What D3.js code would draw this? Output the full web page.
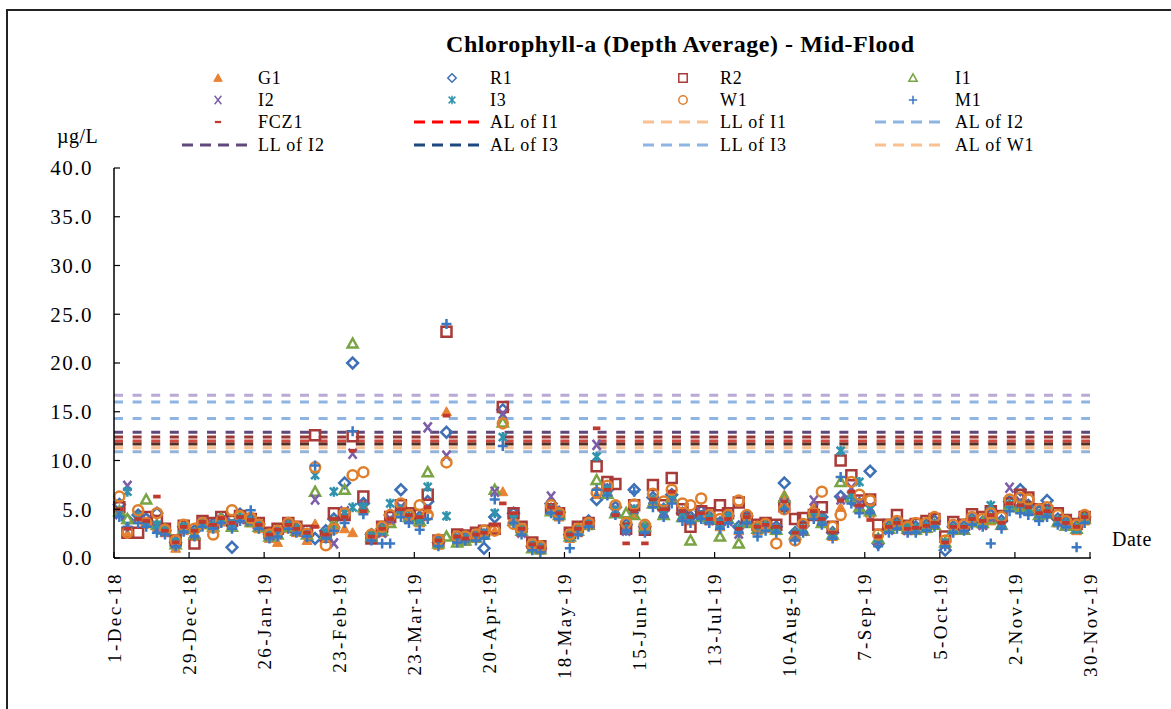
<!DOCTYPE html>
<html><head><meta charset="utf-8">
<script src="https://cdn.jsdelivr.net/npm/d3@7"></script>
<style>
body{margin:0;background:#fff}
svg{display:block}
text{font-family:"Liberation Serif","Times New Roman",serif;fill:#000}
</style>
</head><body>
<svg id="chart" width="1171" height="709"></svg>
<script>
const dates = ["3-Dec-18","6-Dec-18","10-Dec-18","13-Dec-18","17-Dec-18","20-Dec-18","24-Dec-18","27-Dec-18","31-Dec-18","3-Jan-19","7-Jan-19","10-Jan-19","14-Jan-19","17-Jan-19","21-Jan-19","24-Jan-19","28-Jan-19","31-Jan-19","4-Feb-19","7-Feb-19","11-Feb-19","14-Feb-19","18-Feb-19","21-Feb-19","25-Feb-19","28-Feb-19","4-Mar-19","7-Mar-19","11-Mar-19","14-Mar-19","18-Mar-19","21-Mar-19","25-Mar-19","28-Mar-19","1-Apr-19","4-Apr-19","8-Apr-19","11-Apr-19","15-Apr-19","18-Apr-19","22-Apr-19","25-Apr-19","29-Apr-19","2-May-19","6-May-19","9-May-19","13-May-19","16-May-19","20-May-19","23-May-19","27-May-19","30-May-19","3-Jun-19","6-Jun-19","10-Jun-19","13-Jun-19","17-Jun-19","20-Jun-19","24-Jun-19","27-Jun-19","1-Jul-19","4-Jul-19","8-Jul-19","11-Jul-19","15-Jul-19","18-Jul-19","22-Jul-19","25-Jul-19","29-Jul-19","1-Aug-19","5-Aug-19","8-Aug-19","12-Aug-19","15-Aug-19","19-Aug-19","22-Aug-19","26-Aug-19","29-Aug-19","2-Sep-19","5-Sep-19","9-Sep-19","12-Sep-19","16-Sep-19","19-Sep-19","23-Sep-19","26-Sep-19","30-Sep-19","3-Oct-19","7-Oct-19","10-Oct-19","14-Oct-19","17-Oct-19","21-Oct-19","24-Oct-19","28-Oct-19","31-Oct-19","4-Nov-19","7-Nov-19","11-Nov-19","14-Nov-19","18-Nov-19","21-Nov-19","25-Nov-19","28-Nov-19"];

const G1 = [4.6,2.5,4.2,3.5,3.2,2.6,1.0,2.8,2.2,3.4, 3.0,3.9,3.4,4.0,3.6,3.0,2.0,1.6,3.0,2.6, 1.8,3.5,2.0,3.3,3.0,2.6,5.0,2.0,2.6,3.8, 4.8,4.0,3.6,5.0,1.3,15.0,1.8,1.7,2.0,2.3, 2.8,6.8,4.3,2.6,1.0,0.8,5.2,4.2,2.0,2.6, 3.3,6.5,6.8,4.8,3.2,4.5,3.0,5.8,4.6,6.0, 4.2,3.8,4.4,3.8,3.2,4.0,2.8,3.8,2.8,3.0, 2.8,6.5,2.2,3.0,5.3,3.8,2.2,5.2,6.6,5.0, 4.6,1.8,3.0,3.4,2.8,2.8,3.0,3.4,1.4,2.8, 3.0,3.6,3.4,3.8,3.3,5.2,5.0,4.8,4.2,4.5, 3.6,3.4,2.8,3.8];
const R1 = [5.5,3.9,4.4,4.0,4.6,2.8,1.6,3.2,2.8,3.6, 3.5,4.0,1.1,4.5,3.9,3.5,2.4,2.6,3.5,3.0, 2.3,2.0,2.8,4.0,7.7,20.0,5.6,2.4,3.0,4.4, 7.0,4.5,4.2,5.8,1.6,12.9,2.2,2.0,2.3,1.0, 4.2,15.2,4.6,3.0,1.2,1.0,5.6,4.7,2.4,3.0, 3.8,6.0,7.0,5.2,3.4,7.0,3.2,6.2,5.0,6.5, 4.6,4.2,4.8,4.2,3.6,4.3,3.2,4.3,3.2,3.4, 3.2,7.7,2.6,3.3,4.6,4.2,2.6,6.3,6.0,5.6, 8.9,1.5,3.2,3.6,3.1,3.2,3.4,3.8,0.8,3.2, 3.2,4.0,3.7,4.4,3.8,5.8,7.0,5.4,4.8,5.9, 4.0,3.7,3.2,4.2];
const R2 = [5.2,2.6,2.6,4.2,3.8,3.0,1.8,3.3,1.5,3.8, 3.6,4.2,3.8,4.3,4.0,3.6,2.6,3.0,3.6,3.2, 2.8,12.6,2.2,4.6,4.4,12.5,6.3,2.0,3.2,4.2, 5.4,4.6,4.4,6.5,1.8,23.2,2.4,2.3,2.6,2.8, 3.0,15.5,4.6,3.2,1.6,1.2,5.0,4.6,2.6,3.2, 3.6,9.4,7.8,7.6,3.0,5.4,2.9,7.5,5.4,8.2, 5.0,3.2,4.8,4.6,5.4,4.6,5.7,4.0,3.4,3.6, 3.4,5.3,4.0,4.1,4.4,5.2,3.2,10.0,8.5,5.9, 6.0,3.4,3.4,4.4,3.3,3.5,3.8,4.0,2.2,3.7, 3.4,4.5,4.2,4.8,4.3,5.6,6.5,6.2,5.0,4.8, 4.6,3.9,3.5,4.2];
const I1 = [4.8,4.0,4.0,6.0,3.4,2.9,1.4,3.0,2.4,3.5, 3.2,4.0,3.2,4.2,3.7,3.2,2.2,2.4,3.2,2.8, 2.4,6.8,2.4,3.6,7.0,22.0,5.2,2.2,2.8,3.6, 4.6,4.2,3.8,8.8,1.5,2.2,1.6,1.8,2.1,2.4, 7.0,13.9,3.8,2.8,1.0,0.9,4.8,4.4,2.2,2.8, 3.4,8.0,6.6,4.6,4.6,4.4,3.2,5.6,4.4,6.2, 4.2,1.8,4.2,4.0,2.2,4.0,1.5,3.6,3.0,3.2, 2.9,6.2,2.4,2.8,4.6,3.6,2.4,7.8,6.2,5.2, 4.8,2.0,3.0,3.3,3.0,2.9,3.1,3.4,1.6,2.9, 2.9,3.7,3.6,4.0,3.4,5.4,5.2,5.0,4.4,4.6, 3.7,3.3,3.0,4.0];
const I2 = [4.5,7.4,4.2,3.8,3.0,2.7,1.5,3.0,2.5,3.6, 3.4,3.8,3.6,4.0,3.8,3.3,2.3,2.5,3.4,2.8, 2.6,6.0,2.6,1.5,4.8,10.7,5.4,2.3,2.6,4.0, 5.2,4.0,4.0,13.4,1.8,10.5,2.0,2.2,2.3,2.6, 6.8,14.8,4.0,2.6,1.2,1.0,6.3,4.5,2.2,2.7, 3.5,11.6,7.2,5.0,2.8,5.0,3.0,6.0,4.8,6.4, 4.4,4.0,4.6,3.9,3.6,3.8,2.5,4.0,3.0,3.2, 3.0,5.6,2.4,2.8,5.9,4.0,2.4,6.0,7.2,5.6, 5.2,1.8,2.9,3.4,2.9,3.0,3.2,3.5,1.5,3.0, 3.0,3.8,3.4,4.2,3.6,7.2,5.8,5.0,4.6,4.8, 3.8,3.5,3.0,4.0];
const I3 = [4.6,6.8,4.3,3.6,3.4,2.8,1.6,3.1,2.6,3.5, 3.3,3.9,3.5,4.1,3.8,3.3,2.4,2.6,3.3,2.9, 2.5,8.5,2.6,6.8,4.6,5.2,5.2,2.2,2.8,5.6, 5.0,4.2,4.0,7.3,1.7,4.3,2.0,2.0,2.2,2.5, 4.6,12.4,4.0,2.8,1.3,1.0,5.0,4.4,2.2,2.8, 3.5,10.4,7.0,4.9,3.0,5.0,3.0,6.0,5.0,6.5, 4.4,4.0,4.4,4.0,3.5,4.2,3.0,4.0,3.0,3.2, 3.0,5.5,2.5,3.0,4.4,4.0,2.5,11.0,6.4,7.8, 5.0,2.0,3.0,3.5,3.0,3.0,3.2,3.5,1.5,3.0, 3.0,3.8,3.5,5.4,3.6,5.5,5.5,5.0,4.5,4.8, 3.8,3.5,3.0,4.0];
const W1 = [6.3,2.6,4.9,3.6,4.6,2.9,1.8,3.4,3.0,3.6, 2.4,3.8,4.9,4.3,4.1,3.4,2.4,2.8,3.6,3.2, 2.5,9.3,1.3,3.0,4.6,8.5,8.8,2.4,3.2,4.4, 5.6,4.4,5.4,4.4,1.9,9.8,2.2,2.2,2.4,2.8, 2.8,13.8,3.5,3.0,1.4,1.2,5.4,4.6,2.4,3.0, 3.6,6.7,7.4,5.4,3.6,5.5,3.4,6.6,5.8,7.0, 5.6,5.4,6.1,4.4,4.0,4.4,5.9,4.4,3.2,3.5, 1.5,5.0,1.8,3.5,4.6,6.8,3.2,4.4,7.8,6.5, 5.9,2.4,3.4,3.8,3.2,3.6,3.6,4.2,1.8,3.4, 3.4,4.2,4.0,4.6,4.2,6.0,6.2,6.0,5.0,5.2, 4.4,3.8,3.4,4.4];
const M1 = [4.2,3.2,3.6,3.2,2.6,2.4,1.2,2.7,2.2,3.2, 3.0,3.6,3.0,3.8,4.9,3.0,2.0,2.2,3.0,2.6, 2.2,9.5,2.0,2.8,3.6,13.0,4.5,1.8,1.5,1.5, 4.2,3.6,2.9,4.0,1.2,24.0,1.6,1.8,1.8,2.0, 6.0,11.5,3.6,2.4,0.8,0.6,4.6,4.0,1.0,2.4, 3.2,7.0,6.4,4.4,2.8,6.8,2.6,5.2,4.2,5.6, 3.8,3.6,4.0,3.6,3.0,3.6,2.6,3.6,2.2,2.8, 2.6,5.0,1.8,2.6,4.0,3.4,2.0,8.3,5.6,4.6, 4.6,1.2,2.6,3.0,2.6,2.6,2.8,3.2,1.2,2.6, 2.8,3.4,3.2,1.5,3.0,4.8,4.6,4.4,3.8,4.2, 3.4,3.2,1.1,3.6];
const FCZ1 = [5.0,3.0,4.0,3.8,6.3,2.8,1.6,3.2,2.8,3.7, 3.4,4.1,3.6,4.2,3.9,3.4,2.4,2.9,3.4,3.0, 2.6,3.2,2.4,4.0,4.2,11.0,4.8,2.2,3.0,4.0, 5.0,4.4,4.2,5.2,1.8,14.6,2.2,2.0,2.4,2.6, 3.4,5.6,4.6,3.0,1.4,1.1,5.2,4.6,2.4,3.0, 3.6,13.3,7.0,4.4,1.5,4.8,1.5,6.0,5.0,6.8, 4.8,4.2,4.6,4.0,3.6,4.0,3.0,4.2,3.2,3.4, 3.2,5.8,2.6,3.2,4.8,4.0,2.6,5.9,6.8,5.4, 3.9,2.2,3.2,3.6,3.0,3.1,3.3,3.6,1.6,3.2, 3.2,4.0,3.8,4.4,3.6,5.6,5.4,5.2,4.6,4.8, 4.0,3.6,3.2,4.2];

const seriesNames = ["G1","R1","R2","I1","I2","I3","W1","M1","FCZ1"];
const seriesValues = [G1,R1,R2,I1,I2,I3,W1,M1,FCZ1];
const seriesShapes = ["triFill","diamond","square","tri","x","star","circle","plus","dash"];
const seriesColors = ["#E98232","#3E70B6","#A83A37","#78A443","#7B5EA7","#2F93AE","#DF7F2C","#3A78C4","#C0392F"];

const limitValues = [16.7,16.0,14.3,12.9,12.4,12.0,11.7,11.3,10.9];
const limitColors = ["#B9A9D4","#8DB4E2","#8DB4E2","#5F497A","#953735","#D0453C","#5A2E22","#FAC090","#95B3D7"];

const legendLineNames = ["AL of I1","LL of I1","AL of I2","LL of I2","AL of I3","LL of I3","AL of W1"];
const legendLineColors = ["#FF0000","#FAC090","#8DB4E2","#604A7B","#1F497D","#8DB4E2","#FAC090"];

const xTickLabels = ["1-Dec-18","29-Dec-18","26-Jan-19","23-Feb-19","23-Mar-19","20-Apr-19","18-May-19","15-Jun-19","13-Jul-19","10-Aug-19","7-Sep-19","5-Oct-19","2-Nov-19","30-Nov-19"];
const yTicks = [0,5,10,15,20,25,30,35,40];

const parse = d3.timeParse("%d-%b-%y");
const svg = d3.select("#chart");

// frame
svg.append("rect").attr("x",7).attr("y",10).attr("width",1180).attr("height",720)
  .attr("fill","none").attr("stroke","#222").attr("stroke-width",2);

const x = d3.scaleTime().domain([parse("1-Dec-18"), parse("30-Nov-19")]).range([114,1090]);
const y = d3.scaleLinear().domain([0,40]).range([558,168]);

function symPath(type, s){
  switch(type){
    case "triFill": case "tri": return `M0,${-s}L${s},${s*0.8}L${-s},${s*0.8}Z`;
    case "diamond": return `M0,${-s}L${s},0L0,${s}L${-s},0Z`;
    case "square": return `M${-s},${-s}H${s}V${s}H${-s}Z`;
    case "x": return `M${-s*0.8},${-s}L${s*0.8},${s}M${s*0.8},${-s}L${-s*0.8},${s}`;
    case "star": return `M${-s*0.8},${-s*0.8}L${s*0.8},${s*0.8}M${s*0.8},${-s*0.8}L${-s*0.8},${s*0.8}M0,${-s}L0,${s}`;
    case "plus": return `M${-s},0L${s},0M0,${-s}L0,${s}`;
    case "dash": return `M${-s*0.75},0L${s*0.75},0`;
    case "circle": return d3.arc()({innerRadius:0,outerRadius:s,startAngle:0,endAngle:2*Math.PI});
  }
}
function drawSym(g, type, color, s, sw){
  const p = g.append("path").attr("d", symPath(type, s));
  if(type==="triFill"){ p.attr("fill",color).attr("stroke",color).attr("stroke-width",1); }
  else if(type==="dash"){ p.attr("fill","none").attr("stroke",color).attr("stroke-width",sw*1.5); }
  else { p.attr("fill","none").attr("stroke",color).attr("stroke-width",sw); }
  return p;
}

// limit lines
const plotG = svg.append("g");
limitValues.forEach((v,i)=>{
  plotG.append("line").attr("x1",114).attr("x2",1090).attr("y1",y(v)).attr("y2",y(v))
    .attr("stroke",limitColors[i]).attr("stroke-width",3).attr("stroke-dasharray","9,9.6");
});

// series markers
seriesValues.forEach((vals,si)=>{
  const g = plotG.append("g");
  vals.forEach((v,i)=>{
    const mg = g.append("g").attr("transform",`translate(${x(parse(dates[i]))},${y(v)})`);
    drawSym(mg, seriesShapes[si], seriesColors[si], si===1?5.4:5.0, 2.5);
  });
});

// axes
const axG = svg.append("g");
axG.append("line").attr("x1",114).attr("x2",114).attr("y1",168).attr("y2",558).attr("stroke","#000").attr("stroke-width",1.5);
axG.append("line").attr("x1",114).attr("x2",1091).attr("y1",558).attr("y2",558).attr("stroke","#000").attr("stroke-width",1.5);
yTicks.forEach(t=>{
  axG.append("line").attr("x1",114).attr("x2",120).attr("y1",y(t)).attr("y2",y(t)).attr("stroke","#000").attr("stroke-width",1.2);
  axG.append("text").attr("x",93).attr("y",y(t)).attr("dy","0.35em").attr("text-anchor","end")
    .attr("font-size",21).attr("letter-spacing",1.5).text(t.toFixed(1));
});
xTickLabels.forEach(l=>{
  const xx = x(parse(l));
  axG.append("line").attr("x1",xx).attr("x2",xx).attr("y1",558).attr("y2",552).attr("stroke","#000").attr("stroke-width",1.2);
  axG.append("text").attr("transform",`translate(${xx},572) rotate(-90)`).attr("dy","0.35em")
    .attr("text-anchor","end").attr("font-size",19).attr("letter-spacing",2.4).text(l);
});

// titles
svg.append("text").attr("x",446).attr("y",52).attr("font-size",24)
  .attr("font-weight","bold").attr("textLength",468).attr("lengthAdjust","spacing")
  .text("Chlorophyll-a (Depth Average) - Mid-Flood");
svg.append("text").attr("x",57).attr("y",143).attr("font-size",20).attr("letter-spacing",0.5).text("µg/L");
svg.append("text").attr("x",1112).attr("y",546).attr("font-size",20).attr("letter-spacing",0.5).text("Date");

// legend
const colMarker = [218,452,683,913];
const colText = [258,490,720,955];
const lineX = [[182,248],[414,479],[643,711],[875,943]];
const rowY = [78,100,122,145];
const legG = svg.append("g");
const items = [];
seriesNames.forEach((n,i)=>items.push({type:"m",name:n,si:i}));
legendLineNames.forEach((n,i)=>items.push({type:"l",name:n,color:legendLineColors[i]}));
items.forEach((it,k)=>{
  const r = Math.floor(k/4), c = k%4;
  const cy = rowY[r];
  if(it.type==="m"){
    const mg = legG.append("g").attr("transform",`translate(${colMarker[c]},${cy})`);
    drawSym(mg, seriesShapes[it.si], seriesColors[it.si], 4.2, 1.5);
  } else {
    legG.append("line").attr("x1",lineX[c][0]).attr("x2",lineX[c][1]).attr("y1",cy).attr("y2",cy)
      .attr("stroke",it.color).attr("stroke-width",3).attr("stroke-dasharray","11,7");
  }
  legG.append("text").attr("x",colText[c]).attr("y",cy).attr("dy","0.35em").attr("font-size",18)
    .attr("letter-spacing",0.8).text(it.name);
});
</script>
</body></html>
